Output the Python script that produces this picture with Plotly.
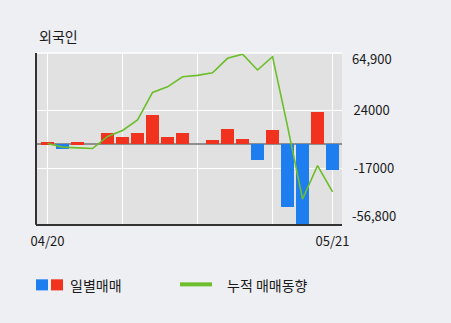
import plotly.graph_objects as go

dates = ["04/20", "04/23", "04/24", "04/25", "04/26", "04/27", "04/30", "05/02", "05/03", "05/04",
         "05/08", "05/09", "05/10", "05/11", "05/14", "05/15", "05/16", "05/17", "05/18", "05/21"]
daily = [1300, -3600, 1300, 0, 7900, 5000, 7900, 20800, 5000, 7900,
         0, 2900, 10700, 3600, -11500, 10000, -44400, -56800, 22900, -18600]
cumulative = [500, -2100, -2600, -3100, 5500, 9800, 17300, 36800, 40800, 48000,
              49000, 50800, 61100, 64100, 52800, 62300, 12700, -39000, -15200, -33900]
y_min, y_max = -56800, 64900
y_ticks = [24000, -17000]
y_ticktext = ["24000", "-17000"]
y_end_labels = ["64,900", "-56,800"]
x_grid = [dates[0], dates[5], dates[10], dates[15], dates[19]]
x_ticktext = ["04/20", "", "", "", "05/21"]
title = "외국인"
legend_bar = "일별매매"
legend_line = "누적 매매동향"

RED = "#f0321e"
BLUE = "#1e7ef0"
GREEN = "#6cbe2a"
FONT = "Noto Sans CJK KR, sans-serif"
TXT = "#1a1a1a"

fig = go.Figure()
fig.add_trace(go.Bar(
    x=dates, y=daily,
    marker=dict(color=[RED if v >= 0 else BLUE for v in daily], line=dict(width=0)),
    width=0.87, showlegend=False, hoverinfo="skip"))
fig.add_trace(go.Scatter(
    x=dates, y=cumulative, mode="lines",
    line=dict(color=GREEN, width=1.6), showlegend=False, hoverinfo="skip"))

fig.update_layout(
    width=451, height=323,
    margin=dict(l=36, r=109, t=53, b=99),
    paper_bgcolor="#eeeff3", plot_bgcolor="#e1e1e1",
    font=dict(family=FONT, size=13, color=TXT),
    bargap=0, showlegend=False,
)
fig.update_xaxes(
    type="category", range=[-0.77, 19.63],
    tickmode="array", tickvals=x_grid, ticktext=x_ticktext,
    showgrid=True, gridcolor="#ffffff", gridwidth=1.3,
    showline=True, linecolor="#333333", linewidth=2,
    ticks="outside", ticklen=4, tickcolor="rgba(0,0,0,0)",
    tickfont=dict(size=13, color=TXT),
)
fig.update_yaxes(
    range=[y_min, y_max], side="right",
    tickmode="array", tickvals=y_ticks, ticktext=y_ticktext,
    showgrid=True, gridcolor="#ffffff", gridwidth=1.3,
    zeroline=True, zerolinecolor="#8e8e8e", zerolinewidth=2.2,
    showline=False,
    ticks="outside", ticklen=8, tickcolor="rgba(0,0,0,0)",
    tickfont=dict(size=13, color=TXT),
)

# top gridline and left axis line
fig.add_shape(type="line", xref="paper", yref="paper", x0=0, x1=1, y0=1, y1=1,
              line=dict(color="#ffffff", width=1.3))
fig.add_shape(type="line", xref="paper", yref="paper", x0=0, x1=0, y0=-0.005, y1=1,
              line=dict(color="#333333", width=2))

# end labels of the value axis
fig.add_annotation(x=1, y=y_max, xref="paper", yref="y", text=y_end_labels[0],
                   showarrow=False, xanchor="left", xshift=8, yshift=-5,
                   font=dict(size=13, color=TXT))
fig.add_annotation(x=1, y=y_min, xref="paper", yref="y", text=y_end_labels[1],
                   showarrow=False, xanchor="left", xshift=8, yshift=9,
                   font=dict(size=13, color=TXT))

# title
fig.add_annotation(x=0, y=1, xref="paper", yref="paper", text=title, showarrow=False,
                   xanchor="left", yanchor="middle", xshift=1, yshift=17,
                   font=dict(size=14, color=TXT))

# custom legend
W, H = 306.0, 170.0
def px_x(p):
    return (p - 36) / W
def px_y(p):
    return (223 - p) / H

fig.add_shape(type="rect", xref="paper", yref="paper",
              x0=px_x(36), x1=px_x(48), y0=px_y(278), y1=px_y(289),
              fillcolor=BLUE, line=dict(width=0))
fig.add_shape(type="rect", xref="paper", yref="paper",
              x0=px_x(51), x1=px_x(63), y0=px_y(278), y1=px_y(289),
              fillcolor=RED, line=dict(width=0))
fig.add_annotation(x=px_x(68), y=px_y(283.5), xref="paper", yref="paper", text=legend_bar,
                   showarrow=False, xanchor="left", yanchor="middle",
                   font=dict(size=14, color=TXT))
fig.add_shape(type="line", xref="paper", yref="paper",
              x0=px_x(180), x1=px_x(212), y0=px_y(283), y1=px_y(283),
              line=dict(color=GREEN, width=4))
fig.add_annotation(x=px_x(225), y=px_y(283.5), xref="paper", yref="paper", text=legend_line,
                   showarrow=False, xanchor="left", yanchor="middle",
                   font=dict(size=14, color=TXT))

fig.write_html("out.html")
